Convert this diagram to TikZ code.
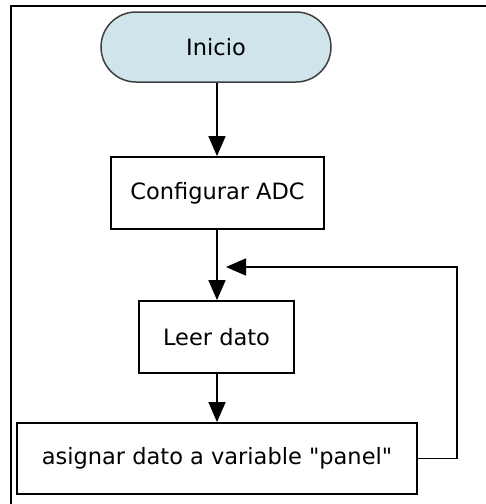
\documentclass[tikz,border=0pt]{standalone}
\usepackage{fontspec}
\setmainfont{DejaVu Sans}
% plain font instance without the TeX character mapping, so " stays straight
\font\chartfont="DejaVu Sans" at 22.5pt
\usetikzlibrary{arrows.meta}
\definecolor{startfill}{HTML}{D0E4EB}
\begin{document}
\begin{tikzpicture}[x=1pt,y=-1pt,
  every node/.style={font=\chartfont, text=black, inner sep=0pt},
  procbox/.style={draw=black, line width=1.8pt, fill=white, minimum height=72pt},
  startbox/.style={draw=black!75, line width=1.5pt, fill=startfill, rounded corners=35pt,
                   minimum width=230pt, minimum height=70pt},
  flow/.style={draw=black, line width=1.6pt, line join=miter, -{Triangle[width=17pt,length=20pt]}}]
  \useasboundingbox (0,0) rectangle (486,504);
  \fill[white] (0,0) rectangle (486,504);
  % outer frame: top and left edges
  \draw[line width=2.6pt, line cap=rect] (486,6) -- (11,6) -- (11,504);

  \node[startbox] (inicio) at (216,47) {Inicio};
  \node[procbox, minimum width=213pt] (config) at (217.5,193) {Configurar ADC};
  \node[procbox, minimum width=155pt] (leer) at (216.5,337) {Leer dato};
  \node[procbox, minimum width=400pt, minimum height=71pt] (asig) at (217,458.5)
       {asignar dato a variable "panel"};

  \coordinate (loopR) at (457,458.5);
  \coordinate (loopT) at (457,267);
  \coordinate (loopE) at (226,267);

  \draw[flow] (inicio.south -| 217,0) -- (config.north -| 217,0);
  \draw[flow] (config.south -| 217,0) -- (leer.north -| 217,0);
  \draw[flow] (leer.south -| 217,0) -- (asig.north -| 217,0);
  \draw[flow] (asig.east) -- (loopR) -- (loopT) -- (loopE);
\end{tikzpicture}
\end{document}
